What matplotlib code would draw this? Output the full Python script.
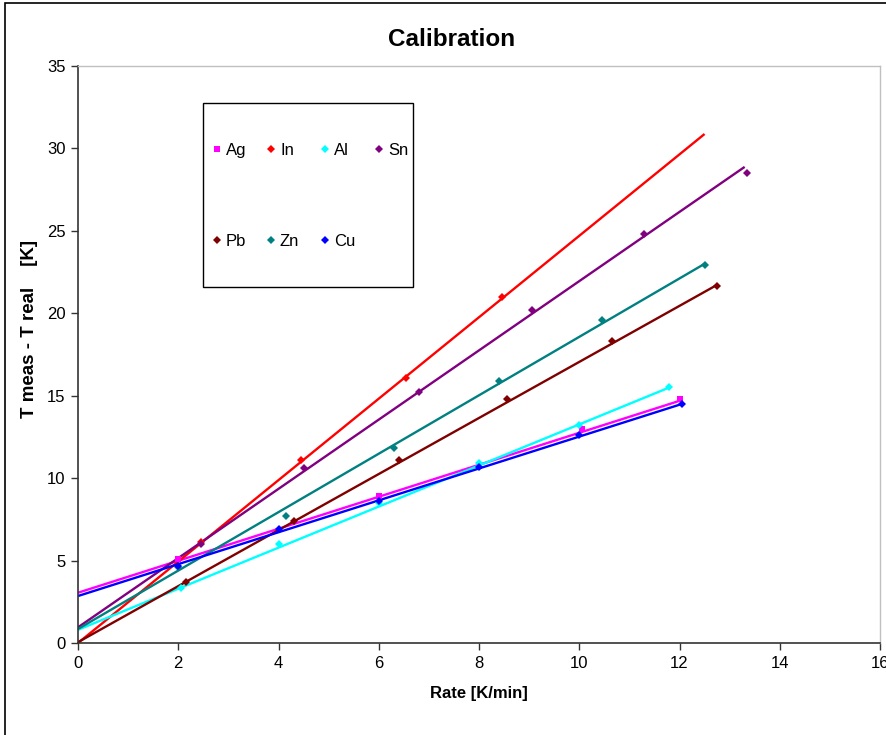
import matplotlib
matplotlib.use("Agg")
import matplotlib.pyplot as plt
from matplotlib.patches import Rectangle
import numpy as np

plt.rcParams['font.family'] = ['Liberation Sans', 'DejaVu Sans']

# ---- data ----
names = ["Ag", "In", "Al", "Sn", "Pb", "Zn", "Cu"]
colors = ["#FF00FF", "#FF0000", "#00FFFF", "#800080", "#800000", "#008080", "#0000FF"]
markers = ["s", "D", "D", "D", "D", "D", "D"]

ag_x = [2.0, 6.0, 10.05, 12.0]
ag_y = [5.1, 8.9, 13.0, 14.8]
in_x = [2.45, 4.45, 6.55, 8.45]
in_y = [6.1, 11.1, 16.1, 21.0]
al_x = [2.05, 4.0, 6.0, 8.0, 10.0, 11.8]
al_y = [3.35, 6.0, 8.5, 10.9, 13.2, 15.5]
sn_x = [2.45, 4.5, 6.8, 9.05, 11.3, 13.35]
sn_y = [6.0, 10.6, 15.2, 20.2, 24.8, 28.5]
pb_x = [2.15, 4.3, 6.4, 8.55, 10.65, 12.75]
pb_y = [3.7, 7.4, 11.1, 14.8, 18.3, 21.65]
zn_x = [2.0, 4.15, 6.3, 8.4, 10.45, 12.5]
zn_y = [4.6, 7.7, 11.8, 15.9, 19.6, 22.95]
cu_x = [2.0, 4.0, 6.0, 8.0, 10.0, 12.05]
cu_y = [4.7, 6.9, 8.6, 10.7, 12.6, 14.5]

xs = [ag_x, in_x, al_x, sn_x, pb_x, zn_x, cu_x]
ys = [ag_y, in_y, al_y, sn_y, pb_y, zn_y, cu_y]

# linear trendlines: intercept, slope, and end of the drawn range
trend_intercept = [3.05, 0.0, 0.8, 0.95, 0.05, 0.85, 2.85]
trend_slope = [0.97, 2.47, 1.246, 2.10, 1.70, 1.772, 0.967]
trend_end = [12.0, 12.5, 11.8, 13.3, 12.75, 12.5, 12.05]

x_ticks = [0, 2, 4, 6, 8, 10, 12, 14, 16]
y_ticks = [0, 5, 10, 15, 20, 25, 30, 35]

# ---- figure ----
W, H = 886, 735
fig = plt.figure(figsize=(W / 100, H / 100), dpi=100)
fig.patch.set_facecolor("white")

# outer chart border
fig.add_artist(Rectangle((5 / W, -0.1), 1.2, 1 - 3 / H + 0.1, transform=fig.transFigure,
                         fill=False, edgecolor="black", linewidth=1.2))

L, R, T, B = 78, 880, 66, 643
ax = fig.add_axes([L / W, 1 - B / H, (R - L) / W, (B - T) / H])

for i, n in enumerate(names):
    tx = np.array([0.0, trend_end[i]])
    ax.plot(tx, trend_intercept[i] + trend_slope[i] * tx, color=colors[i], lw=1.7,
            solid_capstyle="butt", zorder=2)
    ax.plot(xs[i], ys[i], linestyle="none", marker=markers[i], color=colors[i],
            markersize=4.2 if markers[i] == "D" else 4.5, markeredgewidth=0, zorder=3)

ax.set_xlim(0, 16)
ax.set_ylim(0, 35)
ax.set_xticks(x_ticks)
ax.set_yticks(y_ticks)
ax.tick_params(direction="out", length=5, width=1, labelsize=12, pad=4, color="#333333")
for s in ["left", "bottom"]:
    ax.spines[s].set_color("#333333")
    ax.spines[s].set_linewidth(1.2)
for s in ["right", "top"]:
    ax.spines[s].set_color("#c0c0c0")
    ax.spines[s].set_linewidth(1.0)

ax.set_xlabel("Rate [K/min]", fontsize=12, fontweight="bold", labelpad=11)
fig.text(30 / W, 1 - 329 / H, "T meas - T real    [K]", rotation=90, ha="center",
         va="center", fontsize=13.5, fontweight="bold")
fig.text(452 / W, 1 - 40 / H, "Calibration", ha="center", va="center",
         fontsize=17.5, fontweight="bold")

# ---- legend box (Excel style: 4 columns, 2 widely spaced rows) ----
def ax_xy(px, py):
    return ((px - L) / (R - L), 1 - (py - T) / (B - T))

bx0, by0 = ax_xy(203, 287)
bx1, by1 = ax_xy(413, 103)
ax.add_patch(Rectangle((bx0, by0), bx1 - bx0, by1 - by0, transform=ax.transAxes,
                       fill=True, facecolor="white", edgecolor="black", linewidth=1.0,
                       zorder=5))
col_px = [217, 271, 325, 379]
row_px = [149, 240]
for k, n in enumerate(names):
    r, c = divmod(k, 4)
    mx, my = ax_xy(col_px[c], row_px[r])
    ax.plot([mx], [my], transform=ax.transAxes, linestyle="none", marker=markers[k],
            color=colors[k], markersize=4.5 if markers[k] == "D" else 5,
            markeredgewidth=0, zorder=6, clip_on=False)
    tx_, ty_ = ax_xy(col_px[c] + 9, row_px[r])
    ax.text(tx_, ty_, n, transform=ax.transAxes, ha="left", va="center_baseline",
            fontsize=12, zorder=6)

fig.savefig("out.png", dpi=100, facecolor="white")
